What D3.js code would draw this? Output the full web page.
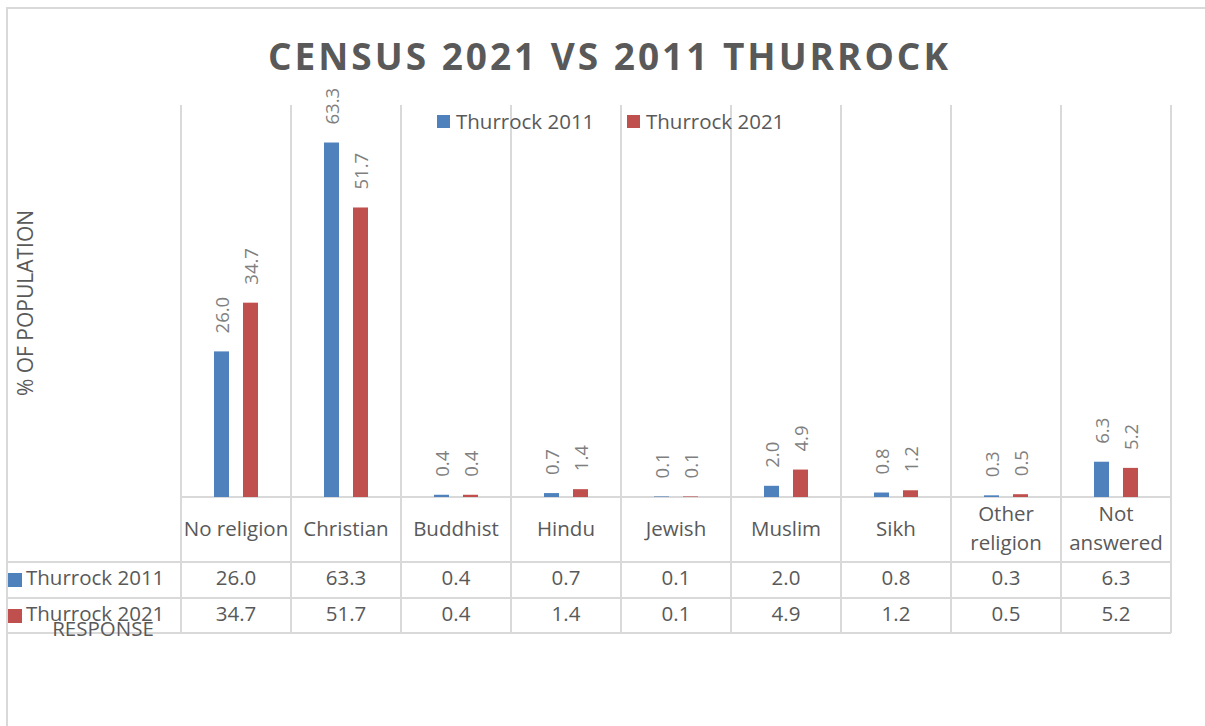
<!DOCTYPE html>
<html>
<head>
<meta charset="utf-8">
<script src="https://cdn.jsdelivr.net/npm/d3@7"></script>
<style>
  body { margin: 0; background: #fff; }
  text { font-family: "Open Sans", sans-serif; fill: #595959; }
</style>
</head>
<body>
<script>
const categories = ["No religion", "Christian", "Buddhist", "Hindu", "Jewish", "Muslim", "Sikh", "Other religion", "Not answered"];
const catLines = [["No religion"], ["Christian"], ["Buddhist"], ["Hindu"], ["Jewish"], ["Muslim"], ["Sikh"], ["Other", "religion"], ["Not", "answered"]];
const seriesNames = ["Thurrock 2011", "Thurrock 2021"];
const values2011 = [26.0, 63.3, 0.4, 0.7, 0.1, 2.0, 0.8, 0.3, 6.3];
const values2021 = [34.7, 51.7, 0.4, 1.4, 0.1, 4.9, 1.2, 0.5, 5.2];
const colors = ["#4f81bd", "#c0504d"];

const width = 1205, height = 726;
const plotTop = 105, baseY = 497, row1 = 562, row2 = 598, row3 = 633;
const left = 181, right = 1171;
const grid = "#d9d9d9";

const svg = d3.select("body").append("svg")
  .attr("width", width)
  .attr("height", height);

// chart border
svg.append("rect")
  .attr("x", 7).attr("y", 8)
  .attr("width", 1220).attr("height", 740)
  .attr("fill", "none").attr("stroke", grid).attr("stroke-width", 2);

var x = d3.scaleBand().domain(categories).range([left, right]).padding(0);
var y = d3.scaleLinear().domain([0, 70]).range([baseY, plotTop]);

// vertical grid / table column lines
var bounds = categories.map(c => x(c)).concat([right]);
svg.selectAll(".vline").data(bounds).enter().append("line")
  .attr("x1", d => d).attr("x2", d => d)
  .attr("y1", plotTop).attr("y2", row3)
  .attr("stroke", grid).attr("stroke-width", 2);

// horizontal table lines
svg.append("line").attr("x1", left).attr("x2", right).attr("y1", baseY).attr("y2", baseY)
  .attr("stroke", grid).attr("stroke-width", 2);
[row1, row2, row3].forEach(function(yy) {
  svg.append("line").attr("x1", 7).attr("x2", right).attr("y1", yy).attr("y2", yy)
    .attr("stroke", grid).attr("stroke-width", 2);
});

// bars
var barW = 15;
var series = [values2011, values2021];
var offsets = [-22, 7];
series.forEach(function(vals, si) {
  var g = svg.append("g");
  g.selectAll("rect").data(vals).enter().append("rect")
    .attr("x", (d, i) => x(categories[i]) + x.bandwidth() / 2 + offsets[si])
    .attr("y", d => y(d))
    .attr("width", barW)
    .attr("height", d => baseY - y(d))
    .attr("fill", colors[si]);

  g.selectAll("text").data(vals).enter().append("text")
    .attr("transform", (d, i) => {
      var cx = x(categories[i]) + x.bandwidth() / 2 + offsets[si] + barW / 2 + 7;
      return "translate(" + cx + "," + (y(d) - 18) + ") rotate(-90)";
    })
    .style("font-size", "18.5px")
    .style("fill", "#7f7f7f")
    .text(d => d.toFixed(1));
});

// category labels (table header)
catLines.forEach(function(lines, i) {
  var cx = x(categories[i]) + x.bandwidth() / 2;
  var t = svg.append("text")
    .attr("x", cx)
    .attr("text-anchor", "middle")
    .style("font-size", "20.5px");
  var startY = lines.length == 1 ? 536 : 521;
  lines.forEach(function(l, j) {
    t.append("tspan").attr("x", cx).attr("y", startY + j * 29).text(l);
  });
});

// table data rows
[row1, row2].forEach(function(top, si) {
  var cy = top + 23;
  svg.selectAll(".row" + si).data(series[si]).enter().append("text")
    .attr("x", (d, i) => x(categories[i]) + x.bandwidth() / 2)
    .attr("y", cy)
    .attr("text-anchor", "middle")
    .style("font-size", "20.5px")
    .text(d => d.toFixed(1));

  svg.append("rect")
    .attr("x", 8).attr("y", top + 11)
    .attr("width", 14).attr("height", 14)
    .attr("fill", colors[si]);
  svg.append("text")
    .attr("x", 26).attr("y", cy)
    .style("font-size", "20.5px")
    .text(seriesNames[si]);
});

// axis titles
svg.append("text")
  .attr("x", 103).attr("y", 636)
  .attr("text-anchor", "middle")
  .style("font-size", "20.5px")
  .text("RESPONSE");

svg.append("text")
  .attr("transform", "translate(33,303) rotate(-90)")
  .attr("text-anchor", "middle")
  .style("font-size", "21px")
  .text("% OF POPULATION");

// legend
var legendX = [437, 627];
seriesNames.forEach(function(name, i) {
  svg.append("rect")
    .attr("x", legendX[i]).attr("y", 115)
    .attr("width", 13).attr("height", 13)
    .attr("fill", colors[i]);
  svg.append("text")
    .attr("x", legendX[i] + 19).attr("y", 129)
    .style("font-size", "20.5px")
    .text(name);
});

// title
svg.append("text")
  .attr("x", 608).attr("y", 70)
  .attr("text-anchor", "middle")
  .attr("textLength", 680)
  .attr("lengthAdjust", "spacing")
  .style("font-size", "37px")
  .style("font-weight", "bold")
  .text("CENSUS 2021 VS 2011 THURROCK");
</script>
</body>
</html>
